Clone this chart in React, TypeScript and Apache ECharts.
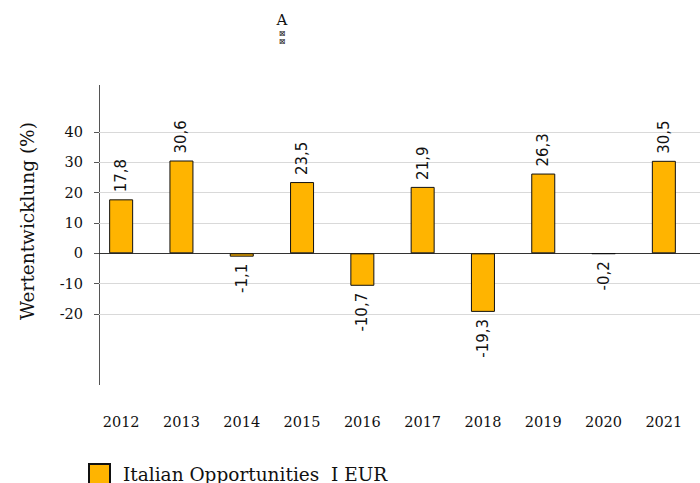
import React, { useEffect, useRef } from "react";
import * as echarts from "echarts";

const categories = ["2012", "2013", "2014", "2015", "2016", "2017", "2018", "2019", "2020", "2021"];
const values = [17.8, 30.6, -1.1, 23.5, -10.7, 21.9, -19.3, 26.3, -0.2, 30.5];
const seriesName = "Italian Opportunities  I EUR";
const yTitle = "Wertentwicklung (%)";
const yMin = -20;
const yMax = 40;
const yStep = 10;

const serif = "Georgia, 'DejaVu Serif', serif";
const sans = "'DejaVu Sans', Verdana, sans-serif";

export default function App() {
  const ref = useRef<HTMLDivElement>(null);
  useEffect(() => {
    if (!ref.current) return;
    const chart = echarts.init(ref.current, null, { renderer: "svg" });
    const fmt = (v: number) => String(v).replace(".", ",");
    chart.setOption({
      animation: false,
      backgroundColor: "#ffffff",
      grid: [
        { left: 91, width: 603, top: 132, height: 182 },
        { left: 99, right: 0, top: 132, height: 182 },
      ],
      xAxis: [
        {
          type: "category",
          gridIndex: 0,
          data: categories,
          axisLine: { show: false },
          axisTick: { show: false },
          axisLabel: { margin: 100, fontFamily: serif, fontSize: 14.5, color: "#111" },
          splitLine: { show: false },
        },
        {
          type: "value",
          gridIndex: 1,
          min: 0,
          max: 1,
          axisLine: { show: true, onZero: true, lineStyle: { color: "#333", width: 1 } },
          axisTick: { show: false },
          axisLabel: { show: false },
          splitLine: { show: false },
        },
      ],
      yAxis: [
        {
          type: "value",
          gridIndex: 0,
          min: yMin,
          max: yMax,
          interval: yStep,
          show: false,
          splitLine: { show: false },
        },
        {
          type: "value",
          gridIndex: 1,
          min: yMin,
          max: yMax,
          interval: yStep,
          axisLine: { show: false },
          axisTick: { show: true, length: 5, lineStyle: { color: "#555" } },
          axisLabel: { margin: 16, fontFamily: serif, fontSize: 14.5, color: "#111" },
          splitLine: { show: true, lineStyle: { color: "#d9d9d9", width: 1 } },
        },
      ],
      legend: {
        left: 88,
        top: 463,
        padding: 0,
        itemWidth: 21,
        itemHeight: 21,
        icon: "rect",
        data: [seriesName],
        textStyle: { fontFamily: serif, fontSize: 18.5, color: "#111", padding: [0, 0, 0, 8] },
      },
      series: [
        {
          name: seriesName,
          type: "bar",
          xAxisIndex: 0,
          yAxisIndex: 0,
          barWidth: 24,
          itemStyle: { color: "#FFB400", borderColor: "#111", borderWidth: 1 },
          data: values.map((v) => ({
            value: v,
            label: {
              show: true,
              position: v >= 0 ? "top" : "bottom",
              rotate: 90,
              align: v >= 0 ? "left" : "right",
              verticalAlign: "middle",
              distance: 7,
              fontFamily: sans,
              fontSize: 15,
              color: "#111",
              formatter: () => fmt(v),
            },
          })),
        },
      ],
      graphic: [
        {
          type: "line",
          shape: { x1: 99.5, y1: 85, x2: 99.5, y2: 385 },
          style: { stroke: "#555", lineWidth: 1 },
        },
        {
          type: "text",
          x: 27,
          y: 221,
          rotation: Math.PI / 2,
          style: {
            text: yTitle,
            fontFamily: serif,
            fontSize: 18.5,
            fill: "#111",
            textAlign: "center",
            textVerticalAlign: "middle",
          },
        },
        {
          type: "text",
          x: 282,
          y: 20,
          style: {
            text: "A",
            fontFamily: serif,
            fontSize: 15,
            fill: "#111",
            textAlign: "center",
            textVerticalAlign: "middle",
          },
        },
        {
          type: "text",
          x: 282,
          y: 37,
          style: {
            text: "⊠\n⊠",
            fontFamily: sans,
            fontSize: 8,
            lineHeight: 8,
            fill: "#111",
            textAlign: "center",
            textVerticalAlign: "middle",
          },
        },
      ],
    });
    return () => chart.dispose();
  }, []);
  return (
    <div
      ref={ref}
      style={{ position: "fixed", left: 0, top: 0, width: 700, height: 483 }}
    />
  );
}
